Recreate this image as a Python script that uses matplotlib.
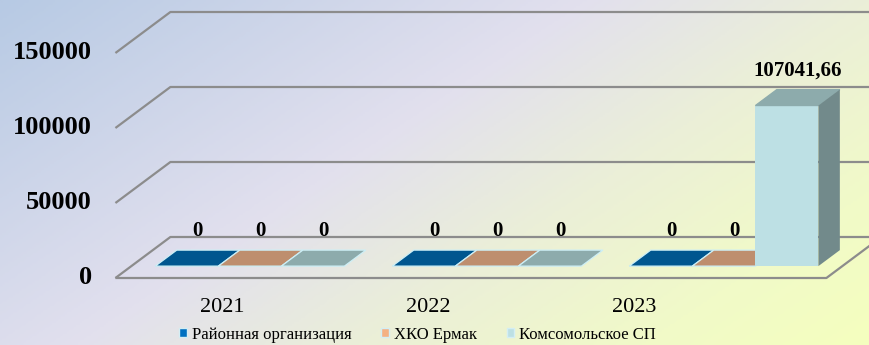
import numpy as np
import matplotlib.pyplot as plt
from matplotlib.patches import Polygon, Patch
from matplotlib.colors import LinearSegmentedColormap

# --- Daten ---
years = ['2021', '2022', '2023']
series_names = ['Районная организация', 'ХКО Ермак', 'Комсомольское СП']
raion = [0, 0, 0]
ermak = [0, 0, 0]
komsomol = [0, 0, 107041.66]
y_ticks = [0, 50000, 100000, 150000]

# Farben: Vorderseite / Deckel / Seite
front_colors = ['#0070C0', '#F4B183', '#BDE0E4']
top_colors = ['#00568F', '#BE8E6E', '#8DABAC']
side_colors = ['#003F6B', '#9A7257', '#728A8B']

plt.rcParams['font.family'] = ['Liberation Serif', 'DejaVu Serif']

# Pseudo-3D Geometrie (Tiefe in Daten-Einheiten)
DX = 0.232      # horizontaler Versatz Boden vorne -> hinten (Kategorie-Einheiten)
DY = 27333      # vertikaler Versatz Boden vorne -> hinten (Wert-Einheiten)
F0, F1 = 0.29, 0.68   # Balken-Tiefe als Anteil der Bodentiefe
bw = 0.266

fig = plt.figure(figsize=(8.7, 3.45), dpi=100)

# Hintergrund-Verlauf (diagonal: blau -> lavendel -> gelb)
bg = fig.add_axes([0, 0, 1, 1])
xx, yy = np.meshgrid(np.linspace(0, 1, 400), np.linspace(0, 1, 160))
grad = (0.75 * xx + 0.44 * yy) / 1.2
cmap = LinearSegmentedColormap.from_list(
    'bg', [(0, '#B7CAE4'), (0.42, '#E2E0EE'), (0.625, '#EBEFD8'),
           (0.83, '#F1FAC8'), (1, '#F5FFBE')])
bg.imshow(grad, cmap=cmap, extent=[0, 1, 0, 1], aspect='auto', origin='upper', vmin=0, vmax=1)
bg.axis('off')

ax = fig.add_axes([0, 0, 1, 1])
ax.patch.set_alpha(0)
ax.set_xlim(-0.987, 2.684)
ax.set_ylim(-44667, 185333)
ax.axis('off')

# Gitterlinien + Y-Beschriftung
grid_kw = dict(color='#8C8C8C', lw=1.6, solid_capstyle='butt', zorder=1)
right = len(years) - 0.5 + DX
for v in y_ticks:
    ax.plot([-0.5, -0.5 + DX, right], [v, v + DY, v + DY], **grid_kw)
    ax.text(-0.6, v, f'{v}', ha='right', va='center', fontsize=19, fontweight='bold')
ax.plot([-0.5, len(years) - 0.5, right], [0, 0, DY], **grid_kw)

# Balken
x = np.arange(len(years))
ddx = (F1 - F0) * DX
for j, vals in enumerate([raion, ermak, komsomol]):
    vals = np.array(vals, dtype=float)
    xl = x + (j - 1.5) * bw + F0 * DX
    ax.bar(xl, vals, width=bw, bottom=F0 * DY, align='edge',
           color=front_colors[j], lw=0, zorder=3)
    for xi, v in zip(xl, vals):
        top = [(xi, v + F0 * DY), (xi + bw, v + F0 * DY),
               (xi + bw + ddx, v + F1 * DY), (xi + ddx, v + F1 * DY)]
        edge = '#CDEFF6' if v == 0 else top_colors[j]
        ax.add_patch(Polygon(top, closed=True, facecolor=top_colors[j],
                             edgecolor=edge, lw=0.9, zorder=3))
        if v > 0:
            side = [(xi + bw, F0 * DY), (xi + bw, v + F0 * DY),
                    (xi + bw + ddx, v + F1 * DY), (xi + bw + ddx, F1 * DY)]
            ax.add_patch(Polygon(side, closed=True, facecolor=side_colors[j],
                                 lw=0, zorder=3))
        lbl = f'{v:.2f}'.replace('.', ',') if v % 1 else f'{v:.0f}'
        ax.text(xi + bw / 2 + ddx / 2, v + F1 * DY + 6000, lbl, ha='center',
                va='bottom', fontsize=15, fontweight='bold', zorder=5)

# Jahres-Beschriftung
for i, yr in enumerate(years):
    ax.text(i * 0.87 - 0.05, -19500, yr, ha='center', va='center', fontsize=16)

# Legende
handles = [Patch(facecolor=c, edgecolor='#D4EEF4', lw=1) for c in front_colors]
fig.legend(handles, series_names, loc='center', bbox_to_anchor=(0.48, 0.03), ncol=3,
           frameon=False, fontsize=12, handlelength=0.45, handleheight=0.45,
           handletextpad=0.3, columnspacing=1.8, borderpad=0)

fig.savefig('out.png', dpi=100)
